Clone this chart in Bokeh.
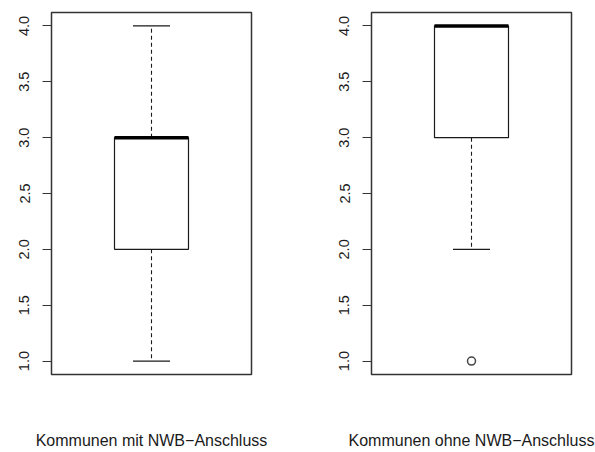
from bokeh.plotting import figure
from bokeh.layouts import row
from bokeh.models import Range1d, FixedTicker, NumeralTickFormatter
from bokeh.embed import file_html
from bokeh.resources import INLINE

# ---- data ----
groups = ["Kommunen mit NWB\u2212Anschluss", "Kommunen ohne NWB\u2212Anschluss"]
whisker_low = [1.0, 2.0]
q1 = [2.0, 3.0]
median = [3.0, 4.0]
q3 = [3.0, 4.0]
whisker_high = [4.0, 4.0]
outliers = [[], [1.0]]
y_ticks = [1.0, 1.5, 2.0, 2.5, 3.0, 3.5, 4.0]

FONT = "Liberation Sans"
INK = "#1a1a1a"
H = 451


def make_panel(i, width, border_left, border_right):
    p = figure(width=width, height=H, output_backend="svg", toolbar_location=None,
               x_range=Range1d(0.5, 1.5), y_range=Range1d(0.88, 4.12))
    p.min_border_left = border_left
    p.min_border_right = border_right
    p.min_border_top = 12
    p.min_border_bottom = H - 374
    p.background_fill_color = "white"
    p.border_fill_color = "white"
    p.outline_line_color = "#333333"
    p.outline_line_width = 1.5
    p.xgrid.visible = False
    p.ygrid.visible = False

    xa = p.xaxis[0]
    xa.ticker = FixedTicker(ticks=[])
    xa.axis_line_color = None
    xa.major_tick_line_color = None
    xa.minor_tick_line_color = None
    xa.major_tick_out = 0
    xa.major_label_text_font_size = "0px"
    xa.axis_label = groups[i]
    xa.axis_label_text_font = FONT
    xa.axis_label_text_font_size = "16px"
    xa.axis_label_text_font_style = "normal"
    xa.axis_label_text_color = INK
    xa.axis_label_standoff = 57

    ya = p.yaxis[0]
    ya.ticker = FixedTicker(ticks=y_ticks)
    ya.formatter = NumeralTickFormatter(format="0.0")
    ya.axis_line_color = None
    ya.major_tick_line_color = "#333333"
    ya.major_tick_line_width = 1.2
    ya.major_tick_out = 9
    ya.major_tick_in = 0
    ya.minor_tick_line_color = None
    ya.major_label_orientation = "vertical"
    ya.major_label_standoff = 13
    ya.major_label_text_font = FONT
    ya.major_label_text_font_size = "14.5px"
    ya.major_label_text_color = INK

    x = 1.0
    bw = 0.37
    cw = 0.185
    # box
    p.quad(left=[x - bw / 2], right=[x + bw / 2], bottom=[q1[i]], top=[q3[i]],
           fill_color="white", line_color=INK, line_width=1.2)
    # whiskers
    p.segment(x0=[x, x], y0=[q3[i], q1[i]], x1=[x, x], y1=[whisker_high[i], whisker_low[i]],
              line_color=INK, line_width=1.1, line_dash="4 3")
    # caps
    p.segment(x0=[x - cw / 2, x - cw / 2], y0=[whisker_high[i], whisker_low[i]],
              x1=[x + cw / 2, x + cw / 2], y1=[whisker_high[i], whisker_low[i]],
              line_color=INK, line_width=1.2)
    # median
    p.segment(x0=[x - bw / 2], y0=[median[i]], x1=[x + bw / 2], y1=[median[i]],
              line_color="black", line_width=3.5)
    # outliers
    if outliers[i]:
        p.scatter(x=[x] * len(outliers[i]), y=outliers[i], marker="circle", size=8,
                  fill_color=None, line_color="#444444", line_width=1.5)
    return p


p1 = make_panel(0, 298, 51, 47)
p2 = make_panel(1, 297, 73, 24)
layout = row(p1, p2)

open("out.html", "w").write(file_html(layout, INLINE))
